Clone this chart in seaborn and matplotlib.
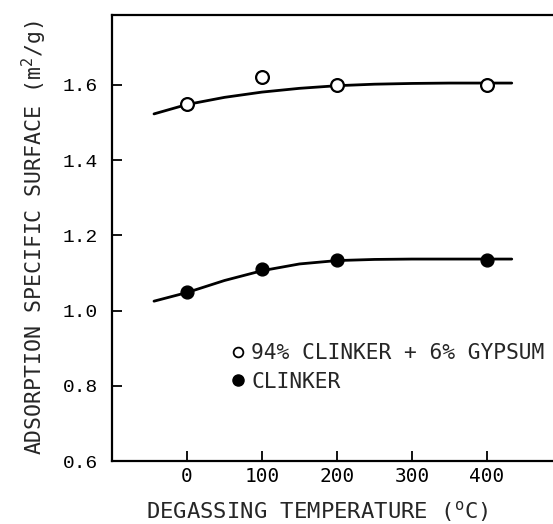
import matplotlib
matplotlib.use("Agg")
import matplotlib.pyplot as plt
from matplotlib.lines import Line2D
import seaborn as sns
import pandas as pd

# measured points
temps = [0, 100, 200, 400]
gypsum_vals = [1.55, 1.62, 1.60, 1.60]
clinker_vals = [1.05, 1.11, 1.135, 1.135]

# hand-drawn smooth curves
curve_x = [-44, 0, 50, 100, 150, 200, 250, 300, 350, 433]
gypsum_curve = [1.523, 1.548, 1.567, 1.581, 1.591, 1.598, 1.602, 1.604, 1.605, 1.605]
clinker_curve = [1.025, 1.048, 1.080, 1.106, 1.124, 1.133, 1.136, 1.137, 1.137, 1.137]

xticks = [0, 100, 200, 300, 400]
yticks = [0.6, 0.8, 1.0, 1.2, 1.4, 1.6]
legend_labels = ["94% CLINKER + 6% GYPSUM", "CLINKER"]

sns.set_style("ticks")
plt.rcParams["font.family"] = ["DejaVu Sans Mono", "DejaVu Sans"]
plt.rcParams["mathtext.fontset"] = "dejavusans"

fig = plt.figure(figsize=(5.53, 5.24), dpi=100)
ax = fig.add_axes([112 / 553, 1 - 461 / 524, 1 - 112 / 553, (461 - 15) / 524])

curves = pd.DataFrame({
    "x": curve_x + curve_x,
    "y": gypsum_curve + clinker_curve,
    "s": ["g"] * len(curve_x) + ["c"] * len(curve_x),
})
for key in ["g", "c"]:
    sub = curves[curves["s"] == key]
    sns.lineplot(data=sub, x="x", y="y", ax=ax, color="black", lw=2.0,
                 estimator=None, sort=False, legend=False)

pts = pd.DataFrame({"t": temps, "g": gypsum_vals, "c": clinker_vals})
sns.scatterplot(data=pts, x="t", y="g", ax=ax, s=85, facecolor="white",
                edgecolor="black", linewidth=1.6, zorder=5, legend=False)
sns.scatterplot(data=pts, x="t", y="c", ax=ax, s=85, color="black",
                edgecolor="black", linewidth=1.0, zorder=5, legend=False)

ax.set_xlim(-100, 488)
ax.set_ylim(0.6, 1.786)
ax.set_xticks(xticks)
ax.set_xticklabels([str(v) for v in xticks], fontsize=14)
ax.set_yticks(yticks)
ax.set_yticklabels([f"{v:.1f}" for v in yticks], fontsize=14,
                   family=["Liberation Mono", "DejaVu Sans Mono"])
ax.tick_params(direction="in", length=7, width=1.3, pad=4, colors="black")
ax.tick_params(axis="y", pad=10)

for s in ["left", "top", "bottom"]:
    ax.spines[s].set_linewidth(1.6)
    ax.spines[s].set_color("black")
ax.spines["right"].set_visible(False)

ax.set_xlabel("DEGASSING TEMPERATURE ($\\mathregular{^oC}$)", fontsize=16, labelpad=6)
ax.xaxis.set_label_coords(0.465, -0.085)
ax.set_ylabel("ADSORPTION SPECIFIC SURFACE ($\\mathregular{m^2/g}$)", fontsize=15.5, labelpad=10)

handles = [
    Line2D([], [], marker="o", ls="none", mfc="white", mec="black", mew=1.3, ms=7),
    Line2D([], [], marker="o", ls="none", mfc="black", mec="black", ms=8),
]
ax.legend(handles, legend_labels, loc="upper left", bbox_to_anchor=(0.255, 0.283),
          frameon=False, handlelength=0.5, handletextpad=0.35, labelspacing=0.4,
          fontsize=15.3, borderaxespad=0)

fig.savefig("out.png", dpi=100)
